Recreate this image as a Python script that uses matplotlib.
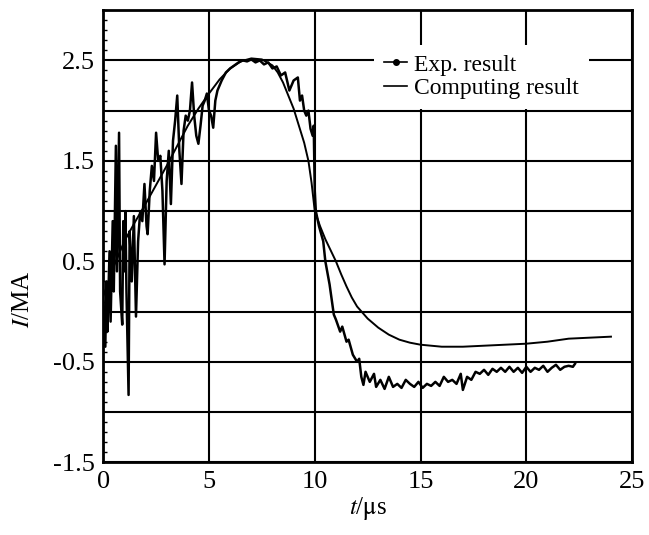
import matplotlib
matplotlib.use("Agg")
import matplotlib.pyplot as plt
from matplotlib.lines import Line2D
from matplotlib.ticker import MultipleLocator

plt.rcParams['font.family'] = ['Liberation Serif', 'DejaVu Serif']
plt.rcParams['mathtext.fontset'] = 'stix'

# experimental current (noisy trace)
t_exp = [0.0, 0.1, 0.15, 0.2, 0.3, 0.35, 0.45, 0.5, 0.6, 0.65, 0.75, 0.8, 0.9, 0.95,
         1.0, 1.05, 1.1, 1.2, 1.25, 1.35, 1.45, 1.55, 1.65, 1.75, 1.85, 1.95, 2.05,
         2.1, 2.2, 2.3, 2.4, 2.5, 2.6, 2.7, 2.8, 2.9, 3.0, 3.1, 3.2, 3.3, 3.4, 3.5,
         3.6, 3.7, 3.8, 3.9, 4.0, 4.1, 4.2, 4.3, 4.4, 4.5, 4.6, 4.7, 4.8, 4.9, 5.0,
         5.1, 5.2, 5.3, 5.4, 5.6, 5.8, 6.0, 6.2, 6.4, 6.6, 6.8, 7.0, 7.2, 7.4, 7.6,
         7.8, 8.0, 8.2, 8.4, 8.6, 8.8, 9.0, 9.2, 9.3, 9.4, 9.5, 9.6, 9.7, 9.8, 9.9,
         9.95, 10.0, 10.05, 10.2, 10.4, 10.5, 10.7, 10.9, 11.0, 11.2, 11.3, 11.5,
         11.6, 11.8, 12.0, 12.1, 12.2, 12.3, 12.4, 12.6, 12.8, 12.9, 13.1, 13.3,
         13.5, 13.7, 13.9, 14.1, 14.3, 14.5, 14.7, 14.9, 15.1, 15.3, 15.5, 15.7,
         15.9, 16.1, 16.3, 16.5, 16.7, 16.9, 17.0, 17.2, 17.4, 17.6, 17.8, 18.0,
         18.2, 18.4, 18.6, 18.8, 19.0, 19.2, 19.4, 19.6, 19.8, 20.0, 20.2, 20.4,
         20.6, 20.8, 21.0, 21.2, 21.4, 21.6, 21.8, 22.0, 22.2, 22.3]
i_exp = [0.1, -0.35, 0.3, -0.2, 0.6, -0.1, 0.9, 0.2, 1.65, 0.4, 1.78, 0.2, -0.13, 0.9,
         0.4, 1.0, 0.2, -0.83, 0.8, 0.3, 0.95, -0.05, 0.7, 1.0, 0.9, 1.27, 0.85,
         0.77, 1.2, 1.45, 1.3, 1.78, 1.5, 1.55, 1.2, 0.47, 1.3, 1.6, 1.07, 1.7, 1.9, 2.15,
         1.6, 1.27, 1.8, 1.95, 1.9, 2.0, 2.28, 1.95, 1.75, 1.67, 1.85, 2.05, 2.1, 2.17, 2.0,
         1.95, 1.83, 2.1, 2.2, 2.3, 2.38, 2.42, 2.45, 2.48, 2.5, 2.49, 2.51, 2.48, 2.5, 2.46,
         2.48, 2.42, 2.44, 2.35, 2.38, 2.2, 2.3, 2.33, 2.1, 2.15, 2.0, 1.95, 2.0, 1.82, 1.75,
         1.85, 1.2, 1.0, 0.85, 0.7, 0.5, 0.27, -0.03, -0.08, -0.2, -0.15, -0.3,
         -0.28, -0.43, -0.5, -0.47, -0.65, -0.73, -0.6, -0.7, -0.62, -0.75, -0.68, -0.77,
         -0.65, -0.75, -0.72, -0.76, -0.68, -0.72, -0.75, -0.7, -0.76, -0.72, -0.74, -0.7,
         -0.74, -0.65, -0.7, -0.68, -0.72, -0.62, -0.78, -0.65, -0.68, -0.6, -0.62, -0.58,
         -0.63, -0.57, -0.6, -0.56, -0.6, -0.55, -0.6, -0.56, -0.61, -0.55, -0.6, -0.56,
         -0.58, -0.54, -0.6, -0.56, -0.53, -0.58, -0.55, -0.54, -0.55, -0.52]

# computed current (smooth)
t_calc = [0, 0.25, 0.5, 1, 1.5, 2, 2.5, 3, 3.5, 4, 4.5, 5, 5.5, 6, 6.5, 7, 7.5, 8,
          8.25, 8.5, 8.75, 9, 9.25, 9.5, 9.7, 9.85, 10, 10.25, 10.5, 10.75, 11,
          11.25, 11.5, 11.75, 12, 12.5, 13, 13.5, 14, 14.5, 15, 16, 17, 18, 19, 20,
          21, 22, 23, 24]
i_calc = [0.15, 0.3, 0.45, 0.7, 0.89, 1.07, 1.26, 1.45, 1.65, 1.85, 2.02, 2.17, 2.31,
          2.42, 2.49, 2.52, 2.51, 2.45, 2.38, 2.28, 2.15, 2.02, 1.85, 1.68, 1.5, 1.28,
          1.0, 0.85, 0.72, 0.61, 0.5, 0.37, 0.25, 0.14, 0.05, -0.07, -0.16, -0.23,
          -0.28, -0.31, -0.33, -0.35, -0.35, -0.34, -0.33, -0.32, -0.3, -0.27, -0.26,
          -0.25]

xticks = [0, 5, 10, 15, 20, 25]
yticks = [-1.5, -1.0, -0.5, 0.0, 0.5, 1.0, 1.5, 2.0, 2.5]
ylabels = ['-1.5', '', '-0.5', '', '0.5', '', '1.5', '', '2.5']

fig = plt.figure(figsize=(6.49, 5.35), dpi=100)
ax = fig.add_axes([0.159, 0.136, 0.815, 0.845])

ax.plot(t_exp, i_exp, color='black', lw=1.8)
ax.plot(t_calc, i_calc, color='black', lw=1.4)

ax.set_xlim(0, 25)
ax.set_ylim(-1.5, 3.0)
ax.set_xticks(xticks)
ax.set_yticks(yticks)
ax.set_yticklabels(ylabels)
ax.yaxis.set_minor_locator(MultipleLocator(0.1))
ax.tick_params(axis='both', which='major', length=0, labelsize=19, pad=6)
ax.tick_params(axis='y', which='minor', direction='in', length=3, width=1)
ax.grid(True, color='black', lw=1.5)
for s in ax.spines.values():
    s.set_linewidth(2)

ax.set_xlabel(r'$t$/$\mathrm{\mu}$s', fontsize=18, labelpad=2)
ax.set_ylabel(r'$I$/MA', fontsize=18)
ax.yaxis.set_label_coords(-0.13, 0.36)

handles = [Line2D([], [], color='black', lw=1.2, marker='o', markersize=4),
           Line2D([], [], color='black', lw=1.2)]
leg = ax.legend(handles, ['Exp. result', 'Computing result'], loc='upper right',
                bbox_to_anchor=(0.94, 0.95), fontsize=17, frameon=True,
                framealpha=1, edgecolor='none', facecolor='white',
                handlelength=1.0, handletextpad=0.3, labelspacing=0.1,
                borderpad=0.4, fancybox=False)

fig.savefig('out.png', dpi=100)
